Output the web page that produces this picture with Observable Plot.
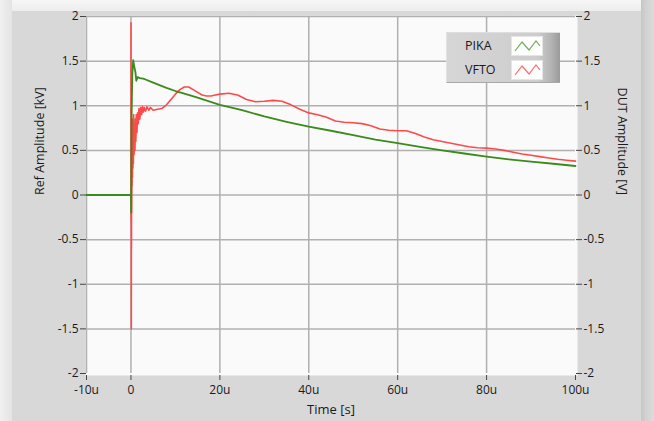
<!DOCTYPE html>
<html><head><meta charset="utf-8">
<script src="https://cdn.jsdelivr.net/npm/d3@7"></script>
<script src="https://cdn.jsdelivr.net/npm/@observablehq/plot@0.6"></script>
<style>
html,body{margin:0;padding:0;}
#wrap{position:relative;width:654px;height:421px;overflow:hidden;background:#d8d8d8;font-family:"Open Sans",sans-serif;}
#bgTop{position:absolute;left:0;top:0;width:654px;height:11px;background:linear-gradient(#f6f6f6,#ededed);}
#bgLeft{position:absolute;left:0;top:0;width:12px;height:421px;background:linear-gradient(to right,#f0f0f0,#e4e4e4);}
#bgRight{position:absolute;left:641px;top:0;width:13px;height:421px;background:linear-gradient(to right,#c6c6c6,#d2d2d2 40%,#dcdcdc);}
#chart{position:absolute;left:0;top:0;}
#legend{position:absolute;left:446px;top:32px;width:114px;height:51px;box-sizing:border-box;
 background:linear-gradient(to right,#d6d6d6,#cdcdcd 80%,#b4b4b4 92%,#9a9a9a);border-left:1px solid #e2e2e2;border-top:1px solid #dedede;border-bottom:1px solid #a8a8a8;}
.lg{position:absolute;font-size:12.5px;color:#1a1a22;}
.ic{position:absolute;left:64px;width:32px;height:20px;background:#fff;border:1px solid #e6e6e6;box-sizing:border-box;}
</style></head>
<body>
<div id="wrap">
 <div id="bgTop"></div><div id="bgLeft"></div><div id="bgRight"></div>
 <div id="chart"></div>
 <div id="legend"></div>
</div>
<script>
// Data (time in microseconds)
const pikaTime = [-10,-0.1,0,0.05,0.15,0.3,0.5,0.7,1.0,1.2,1.5,2,3,5,8,10,12,15,20,25,30,35,40,45,50,55,60,65,70,75,80,85,90,95,100];
const pikaValue = [0,0,0,-0.2,0.9,1.35,1.51,1.45,1.38,1.28,1.32,1.31,1.30,1.26,1.20,1.165,1.135,1.09,1.01,0.95,0.88,0.82,0.765,0.72,0.67,0.62,0.58,0.54,0.50,0.465,0.43,0.40,0.375,0.35,0.325];

const vftoTime = [-10,-0.05,0,0.02,0.04,0.06,0.08,0.10,0.12,0.14,0.16,0.2,0.25,0.3,0.35,0.4,0.45,0.5,0.55,0.6,0.7,0.8,0.9,1.0,1.1,1.2,1.35,1.5,1.65,1.8,2.0,2.2,2.4,2.6,2.8,3.0,3.3,3.6,4.0,4.4,5,6,7,8,9,10,11,12,13,14,15,16,17,18,19,20,22,24,26,28,30,32,34,36,38,40,42,44,46,48,50,52,54,56,58,60,62,64,66,68,70,72,74,76,78,80,82,84,86,88,90,92,94,96,98,100];
const vftoValue = [0,0,0,1.93,-0.3,1.2,-1.5,0.8,-0.6,0.5,-0.2,0.3,0.1,0.6,0.2,0.85,0.3,0.7,0.35,0.9,0.45,0.75,0.5,0.85,0.6,0.9,0.7,0.92,0.8,0.97,0.85,0.98,0.9,0.99,0.93,0.98,0.94,0.99,0.95,0.98,0.95,0.96,0.97,1.01,1.07,1.13,1.18,1.21,1.21,1.18,1.15,1.12,1.11,1.11,1.12,1.13,1.14,1.12,1.07,1.045,1.05,1.06,1.05,1.01,0.96,0.92,0.90,0.87,0.83,0.815,0.81,0.80,0.775,0.74,0.725,0.72,0.72,0.69,0.65,0.62,0.60,0.58,0.56,0.54,0.53,0.525,0.515,0.50,0.48,0.46,0.445,0.43,0.415,0.40,0.39,0.38];

const xTicks = [-10,0,20,40,60,80,100];
const xTickLabels = ["-10u","0","20u","40u","60u","80u","100u"];
const yTicks = [-2,-1.5,-1,-0.5,0,0.5,1,1.5,2];
const yTickLabels = ["-2","-1.5","-1","-0.5","0","0.5","1","1.5","2"];
const seriesNames = ["PIKA","VFTO"];
const seriesColors = ["#3b8a1c","#ff4a4a"];

const pika = pikaTime.map((t,i)=>({t, v: pikaValue[i]}));
const vfto = vftoTime.map((t,i)=>({t, v: vftoValue[i]}));
const xfmt = d => xTickLabels[xTicks.indexOf(d)];
const yfmt = d => yTickLabels[yTicks.indexOf(d)];

const chart = Plot.plot({
  width: 654, height: 421,
  marginLeft: 86, marginRight: 79, marginTop: 16, marginBottom: 48,
  x: {domain: [-10, 100]},
  y: {domain: [-2, 2]},
  style: {background: "transparent", fontFamily: "'Open Sans', sans-serif", fontSize: "12px", color: "#1a1a22"},
  marks: [
    Plot.frame({fill: "#fafafa", stroke: null, insetLeft: -1, insetRight: -2, insetTop: -1, insetBottom: -2}),
    Plot.gridX(xTicks.filter(d => d < 100), {stroke: "#b0b0b0", strokeOpacity: 1, strokeWidth: 1.5}),
    Plot.gridY(yTicks.filter(d => d > -2), {stroke: "#b0b0b0", strokeOpacity: 1, strokeWidth: 1.5}),
    Plot.axisX(xTicks, {anchor: "bottom", tickFormat: xfmt, tickSize: 5, tickPadding: 5, label: null, stroke: "#444", dy: 2}),
    Plot.axisY(yTicks, {anchor: "left", tickFormat: yfmt, tickSize: 6, tickPadding: 2, label: null, stroke: "#444"}),
    Plot.axisY(yTicks, {anchor: "right", tickFormat: yfmt, tickSize: 6, tickPadding: 2, label: null, stroke: "#444"}),
    Plot.text(["Time [s]"], {frameAnchor: "bottom", dy: 40, fontSize: 13, fill: "#1a1a22"}),
    Plot.text(["Ref Amplitude [kV]"], {frameAnchor: "left", dx: -47, rotate: -90, fontSize: 12.5, fill: "#1a1a22"}),
    Plot.text(["DUT Amplitude [V]"], {frameAnchor: "right", dx: 46, rotate: 90, fontSize: 12.5, fill: "#1a1a22"}),
    Plot.line(vfto, {x: "t", y: "v", stroke: seriesColors[1], strokeWidth: 1.6, curve: "linear"}),
    Plot.line(pika, {x: "t", y: "v", stroke: seriesColors[0], strokeWidth: 1.8, curve: "linear"})
  ]
});
document.getElementById("chart").appendChild(chart);

// Legend
const lg = document.getElementById("legend");
const iconColors = ["#6fae4f","#ff6b6b"];
seriesNames.forEach((name, i) => {
  const top = i === 0 ? 3 : 27;
  const t = document.createElement("div");
  t.className = "lg"; t.textContent = name;
  t.style.left = "18px"; t.style.top = (top + 1) + "px";
  lg.appendChild(t);
  const ic = document.createElement("div");
  ic.className = "ic"; ic.style.top = top + "px";
  ic.innerHTML = `<svg width="30" height="18"><polyline points="3,14 10,5 17,13 24,4 28,9" fill="none" stroke="${iconColors[i]}" stroke-width="1.2"/></svg>`;
  lg.appendChild(ic);
});
</script>
</body></html>
